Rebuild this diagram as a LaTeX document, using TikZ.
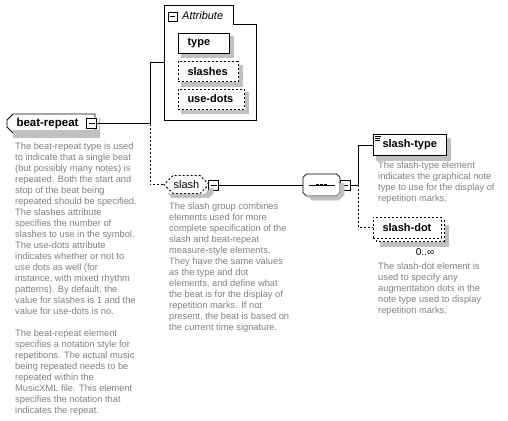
\documentclass[tikz,border=0pt]{standalone}
\usepackage{fontspec}
\setmainfont{Liberation Sans}
\usepackage{tikz}
\usetikzlibrary{shapes.misc}
\usetikzlibrary{positioning}

\definecolor{descgray}{RGB}{128,128,128}
\definecolor{shadegray}{RGB}{192,192,192}

\tikzset{
  elemshadow/.style={fill=shadegray,draw=shadegray,line width=0.5pt},
  elem/.style={draw=black,fill=white,line width=0.8pt,font=\fontsize{11}{13}\selectfont\bfseries,align=left,inner xsep=9.5pt,inner ysep=0pt,minimum height=20pt},
  optline/.style={dash pattern=on 2pt off 2pt},
  minusbox/.style={draw=black,fill=white,line width=0.9pt,minimum size=10pt,inner sep=0pt,
    path picture={\draw[line width=0.9pt] ([xshift=2pt]path picture bounding box.west) -- ([xshift=-2pt]path picture bounding box.east);}},
  octo/.style={chamfered rectangle,chamfered rectangle xsep=5pt,chamfered rectangle ysep=5pt,draw=black,fill=white,line width=0.8pt,inner ysep=0pt},
  desc/.style={text=descgray,font=\fontsize{9.3}{11}\selectfont,align=left,anchor=north west,inner sep=0pt},
  conn/.style={line width=0.8pt}
}

\begin{document}
\begin{tikzpicture}[x=1pt,y=-1pt]
\useasboundingbox (0,0) rectangle (508,420);

\node[elem,chamfered rectangle,chamfered rectangle corners={north west,south west},chamfered rectangle xsep=3pt,chamfered rectangle ysep=3pt,font=\fontsize{11.5}{13}\selectfont\bfseries,inner xsep=6.5pt,text width=69pt,minimum height=19pt] (brp) at (51,123.5) {\mbox{beat-repeat}};
\node[minusbox] (brpmin) at (91.5,123.5) {};
\node[desc] (brpdesc) at (15,143) {The beat-repeat type is used\\to indicate that a single beat\\(but possibly many notes) is\\repeated. Both the start and\\stop of the beat being\\repeated should be specified.\\The slashes attribute\\specifies the number of\\slashes to use in the symbol.\\The use-dots attribute\\indicates whether or not to\\use dots as well (for\\instance, with mixed rhythm\\patterns). By default, the\\value for slashes is 1 and the\\value for use-dots is no.\\[11pt]The beat-repeat element\\specifies a notation style for\\repetitions. The actual music\\being repeated needs to be\\repeated within the\\MusicXML file. This element\\specifies the notation that\\indicates the repeat.};

\draw[conn,fill=white] (164,5) -- (233,5) -- (233,24) -- (256,24) -- (256,120) -- (164,120) -- cycle;
\coordinate (attrw) at (164,62);
\node[minusbox,minimum size=9pt] (attrmin) at (172.5,16.5) {};
\node[anchor=west,inner sep=0pt,font=\fontsize{11}{13}\selectfont\itshape] (attrlbl) at (182,16) {Attribute};
\node[elem,text width=32pt] (atype) at (203.5,43) {\mbox{type}};
\node[elem,optline,text width=41pt] (aslashes) at (208,71.5) {\mbox{slashes}};
\node[elem,optline,text width=47pt] (ausedots) at (211,99) {\mbox{use-dots}};

\node[octo,optline,font=\fontsize{11}{13}\selectfont,minimum width=45pt,minimum height=18pt] (slg) at (186.5,184.5) {slash\hspace{12pt}};
\node[minusbox] (slgmin) at (213.5,185) {};
\node[desc] (slgdesc) at (169,203) {The slash group combines\\elements used for more\\complete specification of the\\slash and beat-repeat\\measure-style elements.\\They have the same values\\as the type and dot\\elements, and define what\\the beat is for the display of\\repetition marks. If not\\present, the beat is based on\\the current time signature.};

\node[octo,minimum width=37pt,minimum height=22pt] (seq) at (321.5,185) {};
\draw[conn] ([xshift=-13pt]seq.center) -- ([xshift=13pt]seq.center);
\foreach \dx in {-4,0,4}
  \fill ([xshift=\dx pt]seq.center) ++(-1.3pt,-1.3pt) rectangle ++(2.6pt,2.6pt);
\node[minusbox] (seqmin) at (345,185) {};

\node[elem,text width=54pt,minimum height=21pt] (stype) at (409.5,145) {\mbox{slash-type}};
\foreach \dy/\len in {2.5/6,4.5/5,6.5/5}
  \draw[line width=0.6pt] ([shift={(2.5pt,-\dy pt)}]stype.north west) -- ++(\len pt,0);
\node[desc] (stypedesc) at (378,162) {The slash-type element\\indicates the graphical note\\type to use for the display of\\repetition marks.};

\draw[conn,optline,fill=white] (376,220) rectangle (444,241);
\node[elem,optline,text width=49pt,minimum height=21pt] (sdot) at (407,227.5) {\mbox{slash-dot}};
\node[inner sep=0pt,font=\fontsize{10}{12}\selectfont] (sdotmult) at (425,252.5) {0..∞};
\node[desc] (sdotdesc) at (378,263) {The slash-dot element is\\used to specify any\\augmentation dots in the\\note type used to display\\repetition marks.};

% shadow strips, right and bottom of each box
\path[elemshadow] (brp.north east) ++(4,4) rectangle ([shift={(4pt,-4pt)}]brp.south east);
\path[elemshadow] ([xshift=4pt]brp.south west) rectangle ([shift={(4pt,-4pt)}]brp.south east);
\foreach \n in {atype,aslashes,ausedots,stype}{
  \path[elemshadow] ([shift={(0.4pt,-4pt)}]\n.north east) rectangle ([shift={(4pt,-4pt)}]\n.south east);
  \path[elemshadow] ([shift={(4pt,-0.4pt)}]\n.south west) rectangle ([shift={(4pt,-4pt)}]\n.south east);
}
\path[elemshadow] (445,225) rectangle (448,246);
\path[elemshadow] (380,242) rectangle (448,246);
\path[elemshadow] (210,188.5) -- (213,188.5) -- (213,193.5) -- (209,197.5) -- (172,197.5) -- (168,193.5) -- (168,194) -- (205,194) -- cycle;
\path[elemshadow] (340,183) -- (344,183) -- (344,195) -- (339,200) -- (312,200) -- (307,195) -- (307,197) -- (336,197) -- (340,193) -- cycle;

\coordinate (j1) at (150,123.5);
\coordinate (j2) at (358,185);
\draw[conn] (brpmin.east) -- (j1);
\draw[conn] (j1) |- (attrw);
\draw[conn,optline] (j1) |- (slg.west);
\draw[conn] (slgmin.east) -- (seq.west);
\draw[conn] (seqmin.east) -- (j2);
\draw[conn] (j2) |- (stype.west);
\draw[conn,optline] (j2) |- (sdot.west);

\end{tikzpicture}
\end{document}
